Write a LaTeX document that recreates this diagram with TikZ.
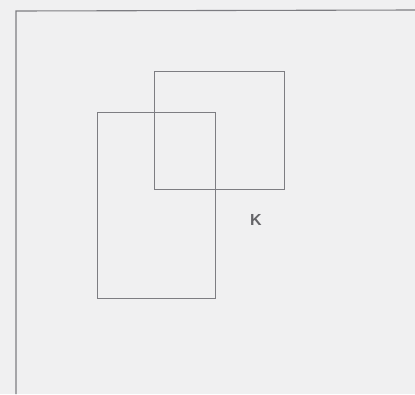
\documentclass[tikz,border=0pt]{standalone}
\usepackage{fontspec}
\setsansfont{Liberation Sans}
\usepackage{tikz}
\usetikzlibrary{positioning}
\definecolor{cPaper}{RGB}{240,240,241}
\definecolor{cLine}{RGB}{125,125,130}
\definecolor{cText}{RGB}{100,100,104}
\tikzset{
	setbox/.style={rectangle, draw=cLine, line width=1pt, inner sep=0pt},
	setlabel/.style={font=\sffamily\bfseries\fontsize{16}{16}\selectfont, text=cText, inner sep=0pt},
}
\begin{document}
\begin{tikzpicture}[x=1pt, y=-1pt]
	\fill[cPaper] (0,0) rectangle (415,394);
	\useasboundingbox (0,0) rectangle (415,394);
	% frame (only top and left edges in view)
	\coordinate (fTL) at (16,11);
	\coordinate (fTR) at (415,10);
	\coordinate (fBL) at (16,394);
	\draw[cLine, line width=1.1pt] (fBL) -- (fTL) -- (fTR);
	% the two overlapping boxes
	\node[setbox, minimum width=118pt, minimum height=186pt] (tall) at (156,205) {};
	\node[setbox, minimum width=130pt, minimum height=118pt] (sq) at (219,130) {};
	\node[setlabel] (lblK) at (256,220) {K};
\end{tikzpicture}
\end{document}
